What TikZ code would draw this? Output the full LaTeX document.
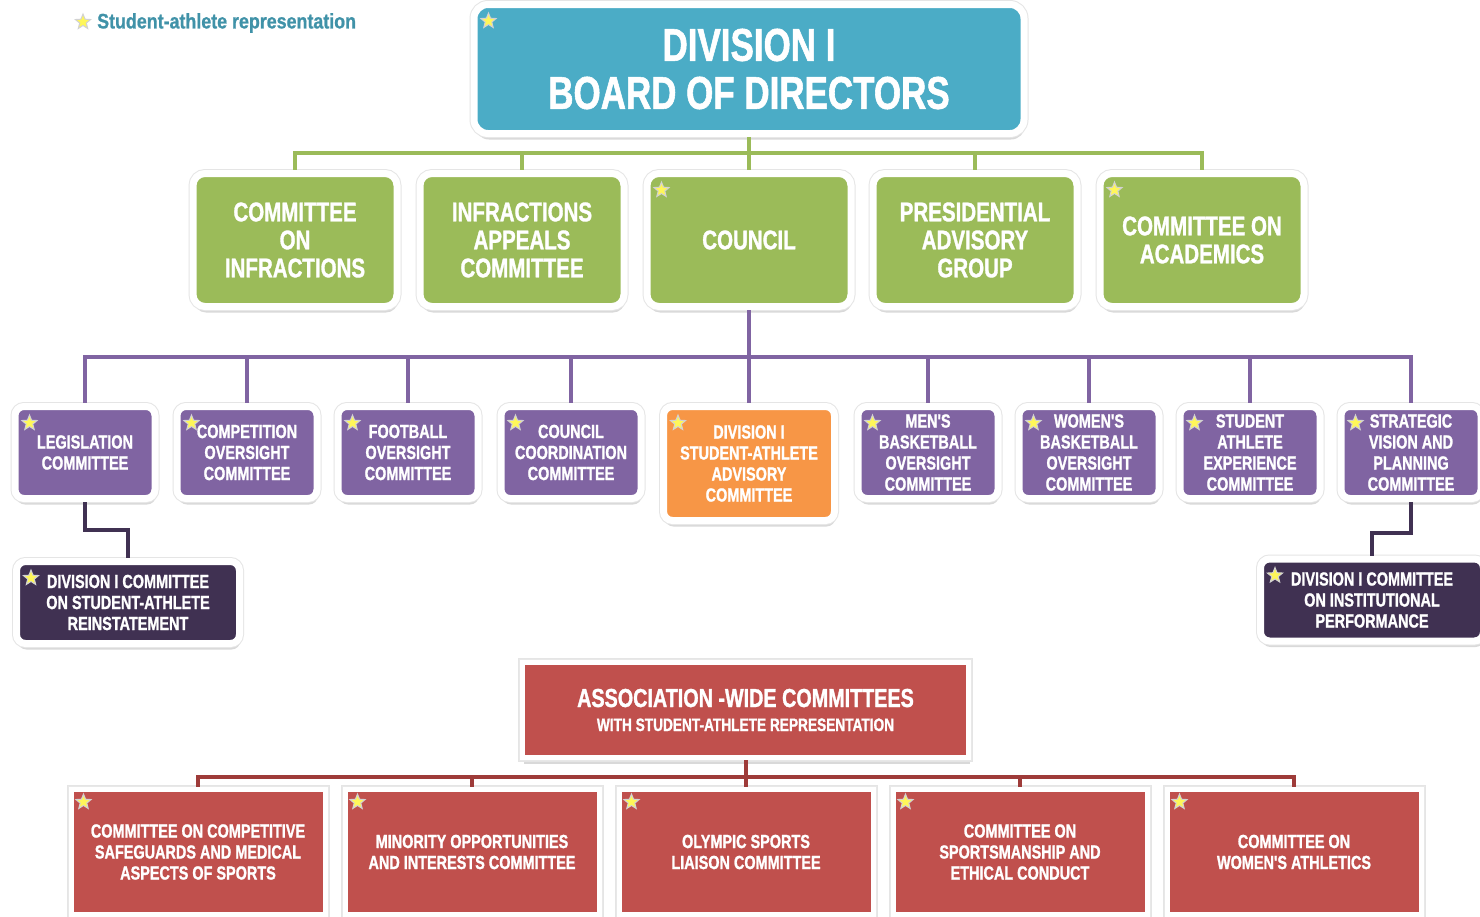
\documentclass[tikz,border=0pt]{standalone}
\usepackage{fontspec}
\newfontfamily\orgfont{Liberation Sans}[UprightFont=* Bold,FakeStretch=0.76,FakeBold=1.2]
\newfontfamily\keyfont{Liberation Sans}[UprightFont=* Bold,FakeStretch=0.85,FakeBold=0.8]
\usetikzlibrary{shapes.geometric,shadows}

\definecolor{boardblue}{HTML}{4BACC6}
\definecolor{govgreen}{HTML}{9BBB59}
\definecolor{cmtpurple}{HTML}{8064A2}
\definecolor{saacorange}{HTML}{F79646}
\definecolor{darkpurple}{HTML}{403152}
\definecolor{assocred}{HTML}{C0504D}
\definecolor{redline}{HTML}{9E3B39}

\begin{document}
\begin{tikzpicture}[x=1pt,y=-1pt,
	box/.style={draw=white,line width=7pt,text=white,align=center,inner sep=0pt,
		drop shadow={shadow xshift=1pt,shadow yshift=-6pt,opacity=.15,fill=black},
		preaction={draw=black!10,line width=9pt}},
	boardbox/.style={box,fill=boardblue,rounded corners=14pt,minimum width=550,minimum height=129,
		font=\orgfont\fontsize{46}{48}\selectfont},
	greenbox/.style={box,fill=govgreen,rounded corners=12pt,minimum width=204,minimum height=133,
		font=\orgfont\fontsize{27}{28}\selectfont},
	purplebox/.style={box,fill=cmtpurple,rounded corners=9pt,minimum width=140,minimum height=92,
		font=\orgfont\fontsize{19}{21}\selectfont},
	orangebox/.style={purplebox,fill=saacorange,minimum width=171,minimum height=114},
	darkbox/.style={purplebox,fill=darkpurple,minimum width=223,minimum height=82},
	redbox/.style={box,fill=assocred,line width=5pt,preaction={draw=black!9,line width=7pt},
		minimum width=254,minimum height=125,font=\orgfont\fontsize{19}{21}\selectfont},
	sastar/.style={star,star points=5,star point ratio=2.3,minimum size=16pt,inner sep=0pt,
		fill=yellow!65!white,draw=gray!35,line width=1pt},
	gline/.style={govgreen,line width=4pt},
	pline/.style={cmtpurple,line width=4pt},
	dline/.style={darkpurple,line width=4pt},
	rline/.style={redline,line width=4pt}
	]
	\path[use as bounding box,fill=white] (0,0) rectangle (1480,916);
	
	% legend
	\node[sastar] (keystar) at (83,22) {};
	\node[anchor=west,inner sep=0pt,text=boardblue!85!black,font=\keyfont\fontsize{21}{22}\selectfont] (key) at (97,23) {Student-athlete representation};
	
	% board and its committees
	\node[boardbox] (board) at (749,69) {DIVISION I\\BOARD OF DIRECTORS};
	
	\node[greenbox] (coi) at (295,240) {COMMITTEE\\ON\\INFRACTIONS};
	\node[greenbox] (iac) at (522,240) {INFRACTIONS\\APPEALS\\COMMITTEE};
	\node[greenbox] (council) at (749,240) {COUNCIL};
	\node[greenbox] (pag) at (975,240) {PRESIDENTIAL\\ADVISORY\\GROUP};
	\node[greenbox] (coa) at (1202,240) {COMMITTEE ON\\ACADEMICS};
	
	% council committees
	\node[purplebox] (leg) at (85,452.5) {LEGISLATION\\COMMITTEE};
	\node[purplebox] (cos) at (247,452.5) {COMPETITION\\OVERSIGHT\\COMMITTEE};
	\node[purplebox] (fos) at (408,452.5) {FOOTBALL\\OVERSIGHT\\COMMITTEE};
	\node[purplebox] (ccc) at (571,452.5) {COUNCIL\\COORDINATION\\COMMITTEE};
	\node[orangebox] (saac) at (749,463.5) {DIVISION I\\STUDENT-ATHLETE\\ADVISORY\\COMMITTEE};
	\node[purplebox] (mbo) at (928,452.5) {MEN'S\\BASKETBALL\\OVERSIGHT\\COMMITTEE};
	\node[purplebox] (wbo) at (1089,452.5) {WOMEN'S\\BASKETBALL\\OVERSIGHT\\COMMITTEE};
	\node[purplebox] (sae) at (1250,452.5) {STUDENT\\ATHLETE\\EXPERIENCE\\COMMITTEE};
	\node[purplebox] (svp) at (1411,452.5) {STRATEGIC\\VISION AND\\PLANNING\\COMMITTEE};
	
	\node[darkbox] (rein) at (128,602.5) {DIVISION I COMMITTEE\\ON STUDENT-ATHLETE\\REINSTATEMENT};
	\node[darkbox] (dcip) at (1372,600) {DIVISION I COMMITTEE\\ON INSTITUTIONAL\\PERFORMANCE};
	
	% association-wide
	\node[redbox,minimum width=446,minimum height=95,font=\orgfont\fontsize{26}{26}\selectfont] (assoc) at (745.5,710)
		{ASSOCIATION -WIDE COMMITTEES\\[-2pt]\fontsize{18}{20}\selectfont WITH STUDENT-ATHLETE REPRESENTATION};
	
	\node[redbox] (cscmas) at (198,852) {COMMITTEE ON COMPETITIVE\\SAFEGUARDS AND MEDICAL\\ASPECTS OF SPORTS};
	\node[redbox] (moic) at (472,852) {MINORITY OPPORTUNITIES\\AND INTERESTS COMMITTEE};
	\node[redbox] (oslc) at (746,852) {OLYMPIC SPORTS\\LIAISON COMMITTEE};
	\node[redbox] (csec) at (1020,852) {COMMITTEE ON\\SPORTSMANSHIP AND\\ETHICAL CONDUCT};
	\node[redbox] (cwa) at (1294,852) {COMMITTEE ON\\WOMEN'S ATHLETICS};
	
	% stars
	\foreach \n in {board,council,coa,leg,cos,fos,ccc,saac,mbo,wbo,sae,svp,rein,dcip}
		\node[sastar] at ([xshift=18pt,yshift=-20pt]\n.north west) {};
	\foreach \n in {cscmas,moic,oslc,csec,cwa}
		\node[sastar] at ([xshift=15pt,yshift=-15pt]\n.north west) {};
	
	% connectors
	\foreach \n in {coi,iac,council,pag,coa}
		\draw[gline] (board.south) -- ++(0,16) -| (\n.north);
	\foreach \n in {leg,cos,fos,ccc,saac,mbo,wbo,sae,svp}
		\draw[pline] (council.south) -- ++(0,47) -| (\n.north);
	\draw[dline] (leg.south) -- ++(0,28) -| (rein.north);
	\draw[dline] (svp.south) -- ++(0,31) -| (dcip.north);
	\foreach \n in {cscmas,moic,oslc,csec,cwa}
		\draw[rline] (assoc.south) -- ++(0,17) -| (\n.north);
\end{tikzpicture}
\end{document}
